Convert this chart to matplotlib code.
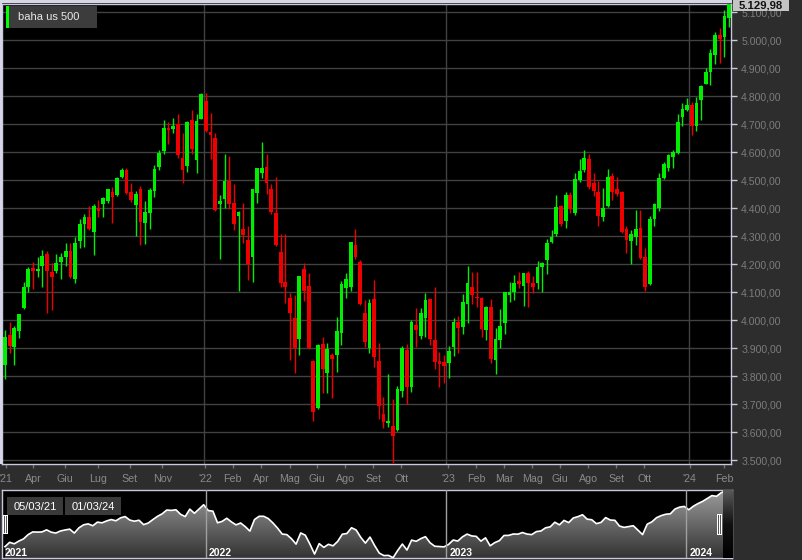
import numpy as np
import pandas as pd
import matplotlib
matplotlib.use('Agg')
import matplotlib.pyplot as plt
from matplotlib.patches import Rectangle, Polygon
from matplotlib.colors import LinearSegmentedColormap

plt.rcParams['font.family'] = ['Liberation Sans', 'DejaVu Sans']

# ---------------- data ----------------
series_name = 'baha us 500'
start_date = '2021-03-05'

opens = [3830, 3840, 3948, 3904, 3962, 4043, 4118, 4186, 4178, 4195, 4237, 4174, 4177, 4210, 4225, 4249,
         4146, 4284, 4346, 4368, 4317, 4400, 4415, 4426, 4457, 4448, 4511, 4536, 4458, 4411, 4470, 4349,
         4385, 4461, 4548, 4604, 4687, 4685, 4702, 4580, 4550, 4717, 4574, 4720, 4783, 4673, 4652, 4414,
         4435, 4498, 4420, 4372, 4327, 4287, 4225, 4456, 4525, 4549, 4471, 4382, 4245, 4136, 4081, 4010,
         3933, 4182, 4123, 3855, 3686, 3914, 3811, 3876, 3876, 3954, 4117, 4118, 4269, 4210, 4025, 3900,
         4075, 3856, 3664, 3632, 3624, 3608, 3749, 3894, 3761, 3983, 3944, 4007, 4075, 3930, 3856, 3850,
         3846, 3906, 3995, 3975, 4058, 4120, 4082, 4079, 3965, 4049, 3860, 3930, 3989, 4090, 4100, 4142,
         4123, 4170, 4134, 4132, 4189, 4215, 4279, 4307, 4410, 4355, 4448, 4385, 4501, 4537, 4575, 4492,
         4457, 4370, 4410, 4517, 4471, 4457, 4325, 4283, 4296, 4331, 4227, 4130, 4361, 4400, 4507, 4543,
         4582, 4599, 4725, 4751, 4771, 4694, 4787, 4846, 4888, 4948, 5021, 5011, 5079]
highs = [3915, 3965, 3995, 3980, 4022, 4136, 4192, 4207, 4225, 4251, 4249, 4206, 4236, 4239, 4275, 4277,
         4299, 4361, 4380, 4408, 4415, 4430, 4442, 4469, 4477, 4511, 4546, 4545, 4490, 4462, 4479, 4426,
         4474, 4556, 4607, 4717, 4708, 4724, 4738, 4670, 4712, 4750, 4738, 4812, 4812, 4742, 4669, 4449,
         4593, 4587, 4488, 4392, 4419, 4337, 4470, 4545, 4636, 4593, 4486, 4511, 4307, 4307, 4096, 4090,
         4160, 4204, 4168, 3857, 3914, 3942, 3918, 3882, 4011, 4140, 4168, 4281, 4325, 4215, 4073, 4075,
         4144, 3918, 3727, 3808, 3718, 3765, 3908, 3915, 4001, 4043, 4043, 4099, 4077, 4118, 3888, 3876,
         3908, 4007, 4015, 4093, 4194, 4174, 4174, 4082, 4050, 4075, 3971, 4039, 4102, 4138, 4162, 4171,
         4170, 4176, 4158, 4213, 4210, 4289, 4323, 4448, 4412, 4457, 4457, 4525, 4575, 4608, 4593, 4525,
         4499, 4474, 4539, 4525, 4513, 4463, 4338, 4323, 4396, 4394, 4257, 4373, 4420, 4525, 4567, 4596,
         4608, 4736, 4775, 4793, 4781, 4799, 4840, 4902, 4971, 5029, 5046, 5108, 5140]
lows = [3723, 3789, 3885, 3840, 3936, 4040, 4100, 4111, 4156, 4120, 4027, 4037, 4168, 4146, 4195, 4150,
        4135, 4260, 4262, 4323, 4233, 4370, 4370, 4421, 4348, 4444, 4507, 4452, 4423, 4301, 4268, 4274,
        4327, 4440, 4536, 4593, 4629, 4670, 4581, 4492, 4530, 4595, 4526, 4718, 4673, 4577, 4390, 4220,
        4402, 4399, 4324, 4105, 4276, 4144, 4136, 4421, 4507, 4451, 4380, 4267, 4120, 4061, 3858, 3811,
        3876, 4070, 3898, 3640, 3682, 3739, 3739, 3721, 3817, 3912, 4079, 4106, 4218, 4055, 3906, 3885,
        3835, 3646, 3614, 3620, 3489, 3605, 3727, 3701, 3743, 3906, 3932, 3942, 3912, 3825, 3761, 3777,
        3793, 3873, 3885, 3951, 3992, 4058, 4046, 3942, 3930, 3847, 3810, 3900, 3950, 4067, 4073, 4114,
        4051, 4049, 4096, 4111, 4102, 4164, 4277, 4301, 4338, 4329, 4382, 4376, 4495, 4529, 4471, 4444,
        4337, 4355, 4406, 4430, 4444, 4313, 4239, 4200, 4269, 4218, 4105, 4126, 4337, 4392, 4505, 4535,
        4543, 4594, 4695, 4748, 4662, 4676, 4715, 4843, 4840, 4915, 4918, 4942, 5049]
closes = [3842, 3942, 3908, 3971, 4021, 4120, 4182, 4178, 4182, 4230, 4176, 4156, 4204, 4227, 4246, 4156,
          4277, 4346, 4368, 4325, 4408, 4392, 4436, 4468, 4439, 4507, 4537, 4456, 4429, 4452, 4351, 4387,
          4467, 4542, 4599, 4687, 4679, 4694, 4589, 4536, 4708, 4613, 4712, 4810, 4676, 4661, 4393, 4426,
          4498, 4414, 4345, 4388, 4304, 4201, 4468, 4543, 4543, 4489, 4388, 4269, 4132, 4120, 4025, 3900,
          4158, 4106, 3900, 3671, 3912, 3825, 3896, 3861, 3963, 4129, 4146, 4279, 4227, 4057, 3924, 4063,
          3868, 3694, 3636, 3640, 3587, 3754, 3902, 3763, 3993, 3965, 4027, 4073, 3932, 3852, 3844, 3837,
          3892, 3995, 3971, 4067, 4132, 4090, 4079, 3969, 4046, 3862, 3935, 3980, 4100, 4102, 4134, 4130,
          4168, 4132, 4120, 4189, 4204, 4277, 4299, 4406, 4346, 4448, 4398, 4504, 4535, 4579, 4477, 4463,
          4373, 4402, 4513, 4457, 4450, 4317, 4287, 4307, 4325, 4221, 4120, 4361, 4414, 4510, 4558, 4590,
          4600, 4710, 4754, 4771, 4694, 4777, 4837, 4888, 4954, 5021, 5004, 5087, 5130]

tick_dates = ['2021-03-13', '2021-04-23', '2021-06-10', '2021-07-29', '2021-09-15', '2021-11-03',
              '2022-01-06', '2022-02-16', '2022-03-31', '2022-05-13', '2022-06-23', '2022-08-04',
              '2022-09-15', '2022-10-27', '2023-01-05', '2023-02-16', '2023-03-30', '2023-05-11',
              '2023-06-22', '2023-08-03', '2023-09-14', '2023-10-26', '2024-01-02', '2024-02-23']
tick_labels = ["'21", 'Apr', 'Giu', 'Lug', 'Set', 'Nov', "'22", 'Feb', 'Apr', 'Mag', 'Giu', 'Ago',
               'Set', 'Ott', "'23", 'Feb', 'Mar', 'Mag', 'Giu', 'Ago', 'Set', 'Ott', "'24", 'Feb']
year_labels = ['2021', '2022', '2023', '2024']
range_labels = ['05/03/21', '01/03/24']
last_price_label = '5.129,98'
y_ticks = list(range(3500, 5101, 100))

# ---------------- helpers ----------------
o = np.array(opens, float); h = np.array(highs, float)
l = np.array(lows, float); c = np.array(closes, float)
n = len(c)
x = np.arange(n)
dates = pd.date_range(start_date, periods=n, freq='W-FRI')
d0 = dates[0]

def date_pos(s):
    return (pd.Timestamp(s) - d0).days / 7.0

W, H = 803, 560
FIG_BG = '#2d2d2d'
BORDER = '#c9c9de'
GRID = '#424242'

def fig_rect(x0, y0, x1, y1, **kw):
    return Rectangle((x0 / W, 1 - y1 / H), (x1 - x0) / W, (y1 - y0) / H,
                     transform=fig.transFigure, **kw)

fig = plt.figure(figsize=(W / 100, H / 100), dpi=100, facecolor=FIG_BG)

# ---------------- main chart ----------------
ax = fig.add_axes([2 / W, 1 - 464 / H, 729.5 / W, 460 / H])
ax.set_facecolor('black')
ax.set_xlim(0.364, 156.5)
ax.set_ylim(3487, 5130)

for p in y_ticks:
    ax.axhline(p, color=GRID, lw=1, zorder=1)

years = dates.year
year_starts = [i for i in range(1, n) if years[i] != years[i - 1]]
for i in year_starts:
    ax.axvline(i - 0.5, color=GRID, lw=1, zorder=1)

up = c >= o
col = np.where(up, '#00ee00', '#ee0000')
ax.vlines(x, l, h, colors=col, lw=1.0, zorder=3)
body_bottom = np.minimum(o, c)
body_h = np.maximum(np.abs(c - o), 3.6)
ax.bar(x, body_h, bottom=body_bottom, width=0.8, color=col, lw=0, zorder=4)

for s in ax.spines.values():
    s.set_color(BORDER)
    s.set_linewidth(1)

ax.yaxis.tick_right()
ax.set_yticks(y_ticks)
ax.set_yticklabels([f"{v:,.2f}".replace(',', 'X').replace('.', ',').replace('X', '.') for v in y_ticks])
ax.tick_params(axis='y', length=4, width=1, color=BORDER, labelcolor='#7c7c7c',
               labelsize=7.6, pad=3)

ax.set_xticks([date_pos(s) for s in tick_dates])
ax.set_xticklabels(tick_labels)
ax.tick_params(axis='x', length=3, width=1, color='#707070', labelcolor='#8a8a8a',
               labelsize=7.7, pad=4)

# ---------------- navigator ----------------
nav = fig.add_axes([2 / W, 1 - 558 / H, 730 / W, 68 / H])
nav.set_facecolor('black')
nx0, nx1 = -0.65, 157.35
ny0, ny1 = 3580, 5150
nav.set_xlim(nx0, nx1)
nav.set_ylim(ny0, ny1)
nav.set_xticks([]); nav.set_yticks([])
for s in nav.spines.values():
    s.set_color(BORDER)
    s.set_linewidth(1)

cmap = LinearSegmentedColormap.from_list('g', ['#333333', '#9c9c9c'])
grad = np.linspace(0, 1, 256).reshape(-1, 1)
im = nav.imshow(grad, extent=[nx0, nx1, ny0, ny1], origin='lower', aspect='auto',
                cmap=cmap, zorder=1)
verts = [(x[0], ny0)] + list(zip(x, c)) + [(x[-1], ny0)]
poly = Polygon(verts, closed=True, facecolor='none', edgecolor='none')
nav.add_patch(poly)
im.set_clip_path(poly)
nav.plot(x, c, color='white', lw=1.2, zorder=3)

for i in year_starts:
    nav.axvline(i - 0.5, color='#a0a0a0', lw=1, zorder=4)
label_pos = [nx0 + 0.65] + [i - 0.5 + 0.65 for i in year_starts]
for lab, px in zip(year_labels, label_pos):
    nav.text(px, 3625, lab, color='white', fontsize=7.5, fontweight='bold',
             ha='left', va='baseline', zorder=6)

# right dark handle strip
cmap2 = LinearSegmentedColormap.from_list('h', ['#000000', '#111111', '#5a5a5a'])
nav.imshow(grad, extent=[155.4, nx1, ny0, ny1], origin='lower', aspect='auto',
           cmap=cmap2, zorder=5)
nav.set_xlim(nx0, nx1)
nav.set_ylim(ny0, ny1)

# ---------------- overlays ----------------
# top and left light strips
fig.add_artist(fig_rect(0, 0, 732, 3, color='#d6d7e6', lw=0))
fig.add_artist(fig_rect(0, 0, 2, 464, color='#d6d7e6', lw=0))

# legend box
fig.add_artist(fig_rect(6, 6, 97, 28, color='#3c3c3c', lw=0))
fig.add_artist(fig_rect(6, 6, 9, 28, color='#00ff00', lw=0))
fig.text(18 / W, 1 - 17.5 / H, series_name, color='#e8e8e8', fontsize=8, ha='left', va='center')

# last price box
fig.add_artist(fig_rect(733, 0, 789, 11, color='#c4c4c4', lw=0))
fig.text(761 / W, 1 - 5.5 / H, last_price_label, color='#111111', fontsize=8.2,
         fontweight='bold', ha='center', va='center')

# date range boxes
for lab, (bx0, bx1) in zip(range_labels, [(7, 63), (65, 121)]):
    fig.add_artist(fig_rect(bx0, 497, bx1, 515, color='#3a3a3a', lw=0))
    fig.text((bx0 + bx1) / 2 / W, 1 - 506.5 / H, lab, color='white', fontsize=8,
             ha='center', va='center')

# navigator handles
for hx0, hy0, hy1 in [(3, 515, 534), (717, 514, 535)]:
    fig.add_artist(fig_rect(hx0, hy0, hx0 + 5, hy1, color='white', lw=0))
    for dx in (1.3, 3.0):
        fig.add_artist(fig_rect(hx0 + dx, hy0 + 1, hx0 + dx + 0.7, hy1 - 1, color='#555555', lw=0))

fig.savefig('out.png', dpi=100, facecolor=FIG_BG)
